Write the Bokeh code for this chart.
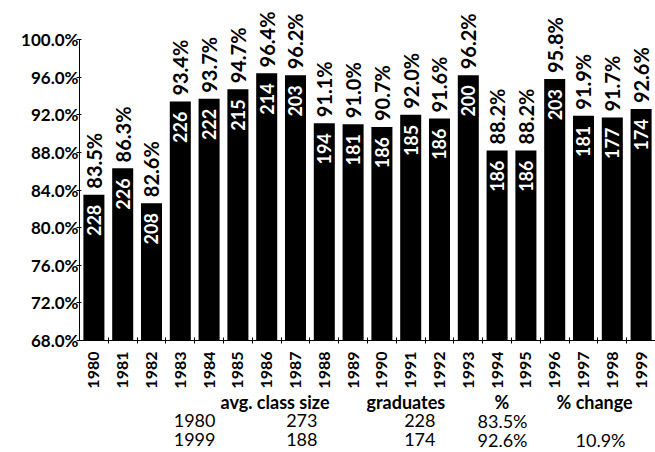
from bokeh.plotting import figure
from bokeh.models import ColumnDataSource, Range1d, FixedTicker, LabelSet
from bokeh.layouts import column
from bokeh.core.properties import value
from bokeh.embed import file_html
from bokeh.resources import INLINE
import math

years = [str(y) for y in range(1980, 2000)]
pct = [83.5, 86.3, 82.6, 93.4, 93.7, 94.7, 96.4, 96.2, 91.1, 91.0,
       90.7, 92.0, 91.6, 96.2, 88.2, 88.2, 95.8, 91.9, 91.7, 92.6]
grads = [228, 226, 208, 226, 222, 215, 214, 203, 194, 181,
         186, 185, 186, 200, 186, 186, 203, 181, 177, 174]
y_ticks = [68, 72, 76, 80, 84, 88, 92, 96, 100]

table_headers = ["avg. class size", "graduates", "%", "% change"]
table_rows = [
    ["1980", "273", "228", "83.5%", ""],
    ["1999", "188", "174", "92.6%", "10.9%"],
]

FONT = "Lato"
Y0, Y1 = 68, 100
N = len(years)

# geometry in page pixels (the page has no margin)
W, H = 655, 452
FL, FT, FB = 79, 39, 340
px_y = (FB - FT) / (Y1 - Y0)
MAIN_H = 392
y_top = Y0 + FB / px_y

xs = [i + 0.5 for i in range(N)]
src = ColumnDataSource(dict(
    x=xs, pct=pct, grads=[str(g) for g in grads],
    pct_txt=[f"{v:.1f}%" for v in pct],
))

p = figure(width=W, height=MAIN_H, x_range=Range1d(0, N), y_range=Range1d(Y0, y_top),
           output_backend="svg", toolbar_location=None,
           min_border_left=FL, min_border_right=0, min_border_top=0,
           min_border_bottom=MAIN_H - FB)
p.outline_line_color = None
p.grid.visible = False
p.background_fill_color = "white"
p.border_fill_color = "white"

p.vbar(x="x", top="pct", bottom=Y0, width=0.73, source=src,
       fill_color="black", line_color=None)

# y axis
p.yaxis.bounds = (Y0, Y1)
p.yaxis.ticker = FixedTicker(ticks=y_ticks)
p.yaxis.major_label_overrides = {t: f"{t:.1f}%" for t in y_ticks}
p.yaxis.major_label_text_font = FONT
p.yaxis.major_label_text_font_style = "bold"
p.yaxis.major_label_text_font_size = "17px"
p.yaxis.major_label_text_color = "black"
p.yaxis.major_tick_in = 2
p.yaxis.major_tick_out = 3
p.yaxis.minor_tick_line_color = None
p.yaxis.major_label_standoff = -2
p.yaxis.axis_line_color = "black"

# x axis
p.xaxis.ticker = FixedTicker(ticks=xs, minor_ticks=list(range(1, N)))
p.xaxis.major_label_overrides = {x: y for x, y in zip(xs, years)}
p.xaxis.major_label_orientation = math.pi / 2
p.xaxis.major_label_text_font = FONT
p.xaxis.major_label_text_font_style = "bold"
p.xaxis.major_label_text_font_size = "16px"
p.xaxis.major_label_text_color = "black"
p.xaxis.major_tick_in = 0
p.xaxis.major_tick_out = 0
p.xaxis.minor_tick_in = 3
p.xaxis.minor_tick_out = 3
p.xaxis.minor_tick_line_color = "black"
p.xaxis.major_label_standoff = 8
p.xaxis.axis_line_color = "black"

# labels above bars
p.add_layout(LabelSet(x="x", y="pct", text="pct_txt", source=src, angle=math.pi / 2,
                      text_align="left", text_baseline="middle", y_offset=6,
                      text_font=value(FONT), text_font_style="bold",
                      text_font_size="20px", text_color="black"))
# labels inside bars
p.add_layout(LabelSet(x="x", y="pct", text="grads", source=src, angle=math.pi / 2,
                      text_align="right", text_baseline="middle", y_offset=-10,
                      text_font=value(FONT), text_font_style="bold",
                      text_font_size="18px", text_color="white"))

# summary table (second figure; its frame spans page x FL..W, y MAIN_H..H)
t = figure(width=W, height=H - MAIN_H, x_range=Range1d(FL, W),
           y_range=Range1d(H, MAIN_H), output_backend="svg",
           toolbar_location=None, x_axis_type=None, y_axis_type=None,
           min_border_left=FL, min_border_right=0, min_border_top=0,
           min_border_bottom=0)
t.outline_line_color = None
t.grid.visible = False

header_left = [220, 366, 494, 556]
hsrc = ColumnDataSource(dict(x=header_left, y=[401] * len(header_left),
                             text=table_headers))
t.text(x="x", y="y", text="text", source=hsrc, text_align="left",
       text_baseline="middle", text_font=value(FONT),
       text_font_style="bold", text_font_size="18px", text_color="black")

col_right = [215, 317, 435, 527, 625]
cx, cy, ct = [], [], []
for row, ym in zip(table_rows, [420, 439]):
    for txt, xr in zip(row, col_right):
        if txt:
            cx.append(xr)
            cy.append(ym)
            ct.append(txt)
csrc = ColumnDataSource(dict(x=cx, y=cy, text=ct))
t.text(x="x", y="y", text="text", source=csrc, text_align="right",
       text_baseline="middle", text_font=value(FONT),
       text_font_size="18px", text_color="black")

layout = column(p, t, spacing=0)
open("out.html", "w").write(file_html(layout, INLINE))
